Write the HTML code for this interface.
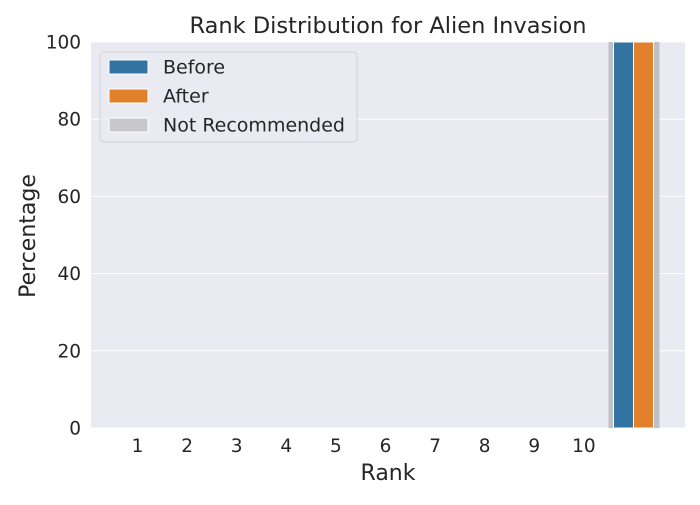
<!DOCTYPE html>
<html><head><meta charset="utf-8"><style>
body{margin:0;background:#fff;font-family:"Liberation Sans","DejaVu Sans",sans-serif}
svg text{font-family:"DejaVu Sans","Liberation Sans",sans-serif;fill:#262626}
</style></head><body>
<svg id="chart" width="700" height="500" xmlns="http://www.w3.org/2000/svg"></svg>
<script>
const categories=[1,2,3,4,5,6,7,8,9,10,11];
const tickLabels=["1","2","3","4","5","6","7","8","9","10",""];
const beforeValues=[0,0,0,0,0,0,0,0,0,0,100];
const afterValues=[0,0,0,0,0,0,0,0,0,0,100];
const notRecommended=[11];
const yTicks=[0,20,40,60,80,100];

const svg=document.getElementById('chart');
const NS='http://www.w3.org/2000/svg';
const L=91,R=685,T=42,B=428;
const x=i=>137.5+49.6*(i-1);
const y=v=>B-(v/100)*(B-T);
function mk(tag,attrs,parent){const e=document.createElementNS(NS,tag);for(const k in attrs)e.setAttribute(k,attrs[k]);(parent||svg).appendChild(e);return e;}

const bg=mk('rect',{x:L,y:T,width:R-L,height:B-T,fill:'#eaeaf2'});


yTicks.forEach(v=>{
  const g=mk('line',{x1:L,x2:R,y1:y(v),y2:y(v),stroke:'#fff','stroke-width':1});
  
  
  const t=mk('text',{x:L-10,y:y(v)+6.5,'text-anchor':'end','font-size':18.5});
  t.textContent=v;
  
  
});
notRecommended.forEach(c=>{
  const cx=x(c);
  const band=mk('rect',{x:cx-25,y:T,width:51,height:B-T,fill:'#c0c0c6'});
  
  
});
categories.forEach((c,i)=>{
  const cx=x(c);
  if(beforeValues[i]>0){
    const b=mk('rect',{x:cx-20,y:y(beforeValues[i]),width:20,height:B-y(beforeValues[i]),fill:'#3274a1',stroke:'#fff','stroke-width':1});
    
    
  }
  if(afterValues[i]>0){
    const a=mk('rect',{x:cx,y:y(afterValues[i]),width:20,height:B-y(afterValues[i]),fill:'#e1812c',stroke:'#fff','stroke-width':1});
    
    
  }
  if(tickLabels[i]){
    const t=mk('text',{x:cx,y:452,'text-anchor':'middle','font-size':18.5});
    t.textContent=tickLabels[i];
    
    
  }
});
const title=mk('text',{x:388,y:33,'text-anchor':'middle','font-size':22.5});
title.textContent='Rank Distribution for Alien Invasion';


const xt=mk('text',{x:388,y:480,'text-anchor':'middle','font-size':22});
xt.textContent='Rank';


const yt=mk('text',{x:0,y:0,'text-anchor':'middle','font-size':22,transform:'translate(35,236) rotate(-90)'});
yt.textContent='Percentage';



const lg=mk('g',{});


mk('rect',{x:100,y:52,width:257,height:90,rx:4,fill:'#eaeaf2',stroke:'#d0d0d6','stroke-width':1,'fill-opacity':0.8},lg);
const items=[['Before','#3274a1',67],['After','#e1812c',96],['Not Recommended','#c8c8cc',125]];
items.forEach(([lab,col,cy])=>{
  const s=mk('rect',{x:109,y:cy-7,width:39,height:14,fill:col,stroke:'#fff','stroke-width':1},lg);
  
  
  const t=mk('text',{x:163,y:cy+6.5,'font-size':19},lg);
  t.textContent=lab;
  
  
});
</script>
</body></html>
